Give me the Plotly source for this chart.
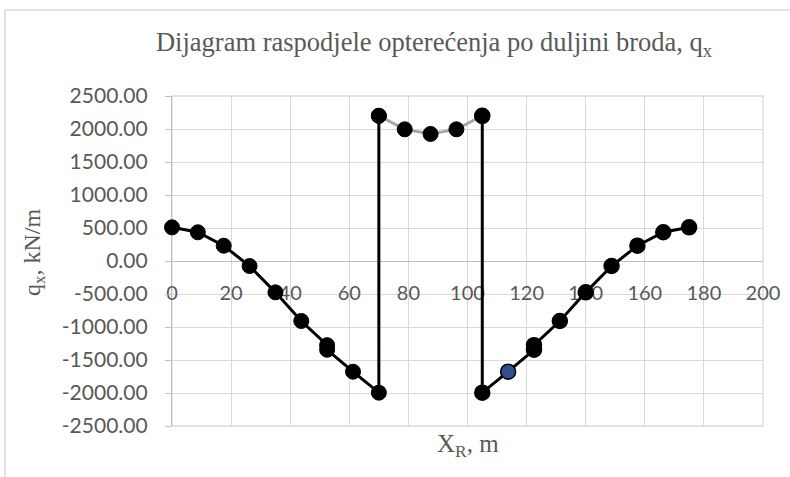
import plotly.graph_objects as go

# ---------------- data ----------------
x_left = [0, 8.75, 17.5, 26.25, 35, 43.75, 52.5, 52.5, 61.25, 70, 70]
q_left = [510, 435, 232, -76, -475, -909, -1275, -1345, -1677, -1995, 2200]

x_mid = [70, 78.75, 87.5, 96.25, 105]
q_mid = [2200, 1995, 1925, 1995, 2200]

x_right = [105, 105, 113.75, 122.5, 122.5, 131.25, 140, 148.75, 157.5, 166.25, 175]
q_right = [2200, -1995, -1677, -1345, -1275, -909, -475, -76, 232, 435, 510]

x_tick_vals = [0, 20, 40, 60, 80, 100, 120, 140, 160, 180, 200]
x_tick_text = ["0", "20", "40", "60", "80", "100", "120", "140", "160", "180", "200"]
y_tick_vals = [2500, 2000, 1500, 1000, 500, 0, -500, -1000, -1500, -2000, -2500]
y_tick_text = ["2500.00", "2000.00", "1500.00", "1000.00", "500.00", "0.00",
               "-500.00", "-1000.00", "-1500.00", "-2000.00", "-2500.00"]

title_text = "Dijagram raspodjele opterećenja po duljini broda, q<sub>x</sub>"
x_title = "X<sub>R</sub>, m"
y_title = "q<sub>x</sub>, kN/m"

# ---------------- styles ----------------
W, H = 790, 477
ML, MR, MT, MB = 172, 27, 96, 51
PW, PH = W - ML - MR, H - MT - MB
GRID = "#d9d9d9"
AXIS = "#bfbfbf"
TXT = "#595959"
SANS = "Lato, 'Liberation Sans', sans-serif"
SERIF = "'Liberation Serif', 'Times New Roman', serif"
MSIZE = 15

def px_x(p):
    return (p - ML) / PW

def px_y(p):
    return (H - MB - p) / PH

fig = go.Figure()

# middle (grey) segment
fig.add_trace(go.Scatter(
    x=x_mid, y=q_mid, mode="lines+markers",
    line=dict(color="#a5a5a5", width=2.8),
    marker=dict(size=MSIZE, color="black", line=dict(color="black", width=1)),
    cliponaxis=False, showlegend=False, hoverinfo="x+y"))

# left branch
fig.add_trace(go.Scatter(
    x=x_left, y=q_left, mode="lines+markers",
    line=dict(color="black", width=3),
    marker=dict(size=MSIZE, color="black", line=dict(color="black", width=1)),
    cliponaxis=False, showlegend=False, hoverinfo="x+y"))

# right branch (one highlighted blue marker)
right_colors = ["black"] * len(x_right)
right_colors[2] = "#2f4f8f"
fig.add_trace(go.Scatter(
    x=x_right, y=q_right, mode="lines+markers",
    line=dict(color="black", width=3),
    marker=dict(size=MSIZE, color=right_colors, line=dict(color="black", width=1.5)),
    cliponaxis=False, showlegend=False, hoverinfo="x+y"))

fig.update_layout(
    width=W, height=H,
    margin=dict(l=ML, r=MR, t=MT, b=MB, pad=0, autoexpand=False),
    paper_bgcolor="white", plot_bgcolor="white",
    title=dict(text=title_text, x=434 / W, xref="container", xanchor="center",
               y=1 - 42 / H, yref="container", yanchor="middle",
               font=dict(family=SERIF, size=26.5, color=TXT)),
    xaxis=dict(range=[0, 200], tickvals=x_tick_vals, ticktext=x_tick_text,
               showgrid=True, gridcolor=GRID, gridwidth=1.3,
               zeroline=False, showline=False, ticks="",
               anchor="free", position=px_y(279), layer="below traces",
               tickfont=dict(family=SANS, size=20, color=TXT)),
    yaxis=dict(range=[-2500, 2500], tickvals=y_tick_vals, ticktext=y_tick_text,
               showgrid=True, gridcolor=GRID, gridwidth=1.3,
               zeroline=True, zerolinecolor=AXIS, zerolinewidth=1.3,
               showline=True, linecolor=AXIS, linewidth=1.3,
               ticks="outside", ticklen=6, tickcolor=AXIS, tickwidth=1.3,
               ticklabelstandoff=13, layer="below traces",
               tickfont=dict(family=SANS, size=21, color=TXT)),
    annotations=[
        dict(text=x_title, xref="paper", yref="paper", x=px_x(468), y=px_y(445),
             xanchor="center", yanchor="middle", showarrow=False,
             font=dict(family=SERIF, size=25, color=TXT)),
        dict(text=y_title, xref="paper", yref="paper", x=px_x(34), y=px_y(253),
             xanchor="center", yanchor="middle", showarrow=False, textangle=-90,
             font=dict(family=SERIF, size=24, color=TXT)),
    ],
    shapes=[
        dict(type="rect", xref="paper", yref="paper", x0=0, x1=1, y0=0, y1=1,
             line=dict(color=GRID, width=1.3), layer="below"),
        dict(type="line", xref="paper", yref="paper", x0=px_x(5), x1=px_x(5),
             y0=px_y(10), y1=px_y(H + 5), line=dict(color=GRID, width=1.5)),
        dict(type="line", xref="paper", yref="paper", x0=px_x(5), x1=px_x(W + 5),
             y0=px_y(10), y1=px_y(10), line=dict(color=GRID, width=1.5)),
    ],
)

fig.write_html("out.html",
               config={"displayModeBar": False},
               post_script="document.body.style.margin='0';document.body.style.overflow='hidden';")
